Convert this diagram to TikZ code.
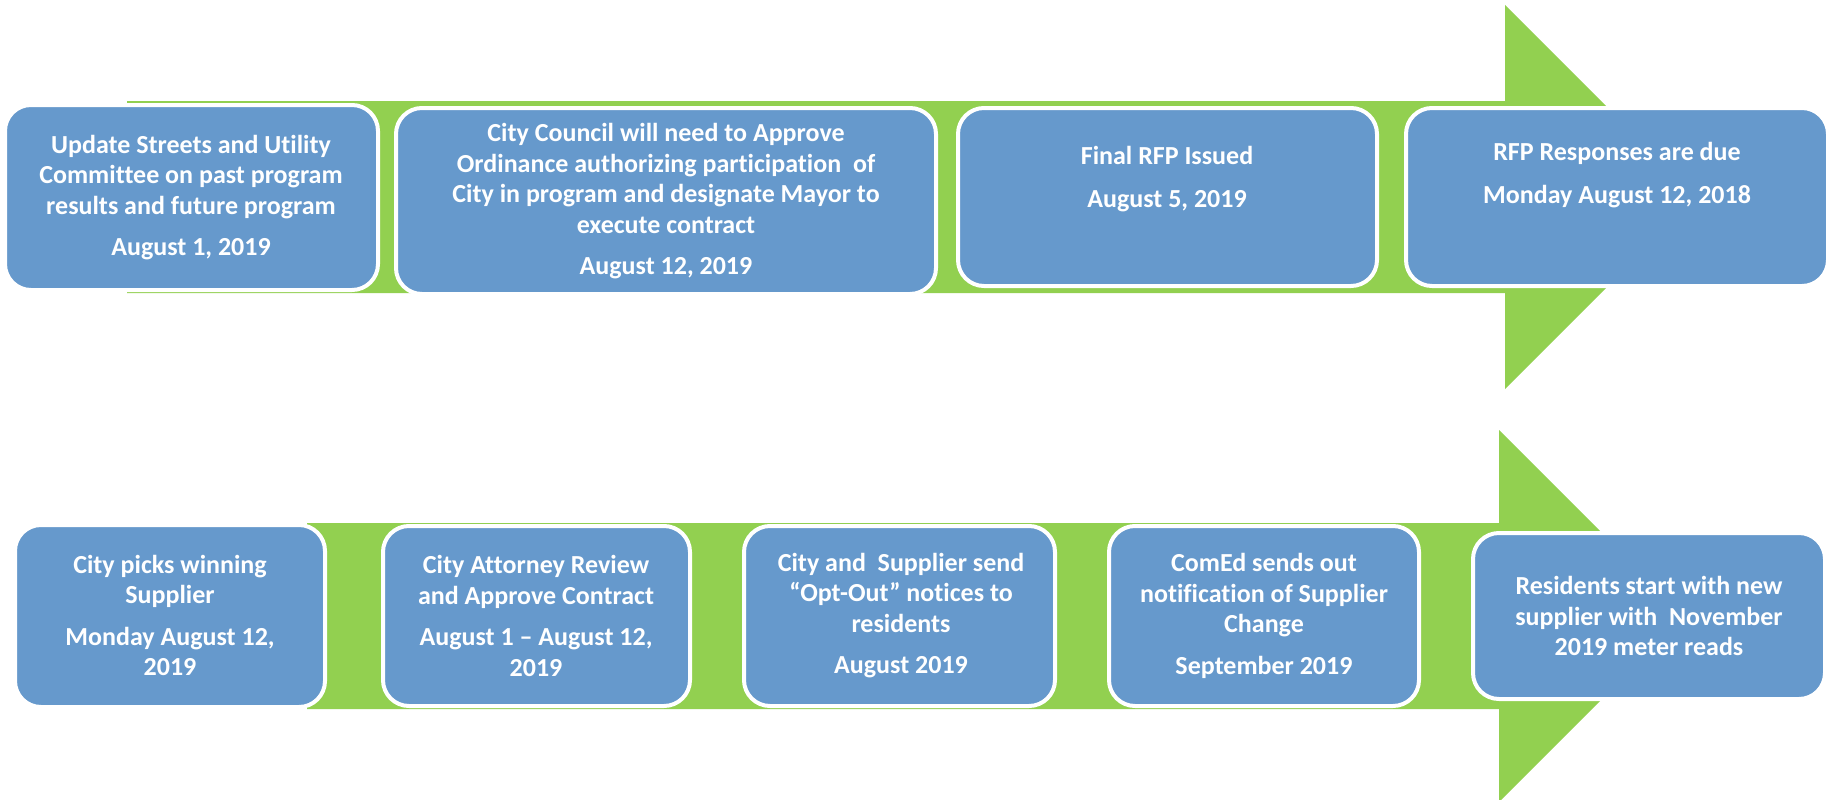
\documentclass[tikz,border=0pt]{standalone}
\usepackage{fontspec}
\setmainfont{Carlito}[Ligatures={TeX,NoCommon}]
\definecolor{boxblue}{RGB}{102,153,204}
\definecolor{arrowgreen}{RGB}{146,208,80}
\begin{document}
\begin{tikzpicture}[x=1pt,y=-1pt,
  stepbox/.style={draw=white, line width=4pt, fill=boxblue, rounded corners=26pt, inner sep=0pt, outer sep=0pt},
  txt/.style={text=white, font=\fontsize{26}{30.5}\selectfont\bfseries, align=center, inner sep=0pt},
  band/.style={fill=arrowgreen, draw=none}]
\useasboundingbox (0,0) rectangle (1829,800);
\fill[white] (0,0) rectangle (1829,800);
% arrows
\fill[band] (127,101) -- (1505,101) -- (1505,5) -- (1697,197) -- (1505,389) -- (1505,293) -- (127,293) -- cycle;
\fill[band] (307,523) -- (1499,523) -- (1499,430) -- (1685,616) -- (1499,802) -- (1499,709) -- (307,709) -- cycle;
% top row boxes
\node[stepbox, minimum width=373pt, minimum height=185pt] (t1) at (191.5,197.5) {};
\node[stepbox, minimum width=540pt, minimum height=186pt] (t2) at (666,201) {};
\node[stepbox, minimum width=419pt, minimum height=178pt] (t3) at (1167.5,197) {};
\node[stepbox, minimum width=422pt, minimum height=178pt] (t4) at (1617,197) {};
% bottom row boxes
\node[stepbox, minimum width=310pt, minimum height=182pt] (l1) at (170,616) {};
\node[stepbox, minimum width=307pt, minimum height=180pt] (l2) at (536.5,616) {};
\node[stepbox, minimum width=311pt, minimum height=180pt] (l3) at (899.5,616) {};
\node[stepbox, minimum width=310pt, minimum height=180pt] (l4) at (1264,616) {};
\node[stepbox, minimum width=352pt, minimum height=166pt] (l5) at (1649,616) {};
% texts
\node[txt] (t1t) at (191,197.5) {Update Streets and Utility\\Committee on past program\\results and future program\\[11pt]August 1, 2019};
\node[txt] (t2t) at (666,201.5) {City Council will need to Approve\\Ordinance authorizing participation~ of\\City in program and designate Mayor to\\execute contract\\[11pt]August 12, 2019};
\node[txt] (t3t) at (1167,179) {Final RFP Issued\\[13pt]August 5, 2019};
\node[txt] (t4t) at (1617,175) {RFP Responses are due\\[13pt]Monday August 12, 2018};
\node[txt] (l1t) at (170,615.5) {City picks winning\\Supplier\\[11pt]Monday August 12,\\2019};
\node[txt] (l2t) at (536,616) {City Attorney Review\\and Approve Contract\\[11pt]August 1 -- August 12,\\2019};
\node[txt] (l3t) at (901,615.5) {City and~ Supplier send\\“Opt-Out” notices to\\residents\\[11pt]August 2019};
\node[txt] (l4t) at (1264,616) {ComEd sends out\\notification of Supplier\\Change\\[11pt]September 2019};
\node[txt] (l5t) at (1649,616) {Residents start with new\\supplier with~ November\\2019 meter reads};
\end{tikzpicture}
\end{document}
